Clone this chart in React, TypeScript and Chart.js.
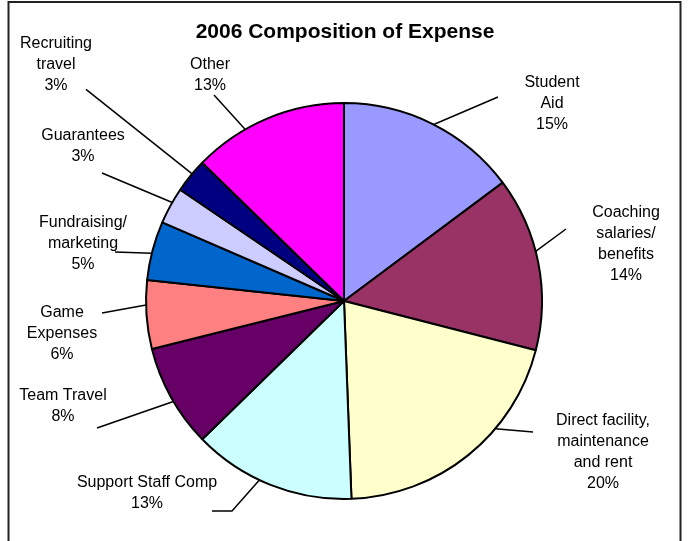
import React, { useEffect, useRef } from "react";
import { Chart, registerables } from "chart.js";

Chart.register(...registerables);

const TITLE = "2006 Composition of Expense";

const categories = [
  "Student\nAid",
  "Coaching\nsalaries/\nbenefits",
  "Direct facility,\nmaintenance\nand rent",
  "Support Staff Comp",
  "Team Travel",
  "Game\nExpenses",
  "Fundraising/\nmarketing",
  "Guarantees",
  "Recruiting\ntravel",
  "Other",
];

const shares = [14.8, 14.2, 20.4, 13.3, 8.4, 5.6, 4.8, 3.0, 2.8, 12.7];

const sliceColors = [
  "#9999FF",
  "#993366",
  "#FFFFCC",
  "#CCFFFF",
  "#660066",
  "#FF8080",
  "#0066CC",
  "#CCCCFF",
  "#000080",
  "#FF00FF",
];

// Label layout relative to the pie centre: first text line centre, and leader polyline
// (from label side to the pie; the last point is snapped onto the pie edge).
const labelLayout: { tx: number; ty: number; leader: [number, number][] }[] = [
  { tx: 208, ty: -218, leader: [[154, -204], [91, -179]] },
  { tx: 282, ty: -88.5, leader: [[222, -72], [189, -49]] },
  { tx: 259, ty: 120, leader: [[189, 131], [154, 130]] },
  { tx: -197, ty: 181.5, leader: [[-132, 210], [-112, 210], [-86, 182]] },
  { tx: -281, ty: 95, leader: [[-247, 127], [-180, 106]] },
  { tx: -282, ty: 12, leader: [[-242, 12], [-198, 4]] },
  { tx: -261, ty: -78, leader: [[-229, -49], [-197, -49]] },
  { tx: -261, ty: -165, leader: [[-242, -128], [-176, -101]] },
  { tx: -288, ty: -257, leader: [[-258, -211.6], [-153, -128]] },
  { tx: -134, ty: -236, leader: [[-130, -206], [-103, -179]] },
];

const FONT = '"Liberation Sans", Arial, sans-serif';

const overlayPlugin = {
  id: "overlay",
  beforeDraw(chart: any) {
    const ctx = chart.ctx;
    ctx.save();
    ctx.fillStyle = "#ffffff";
    ctx.fillRect(0, 0, chart.width, chart.height);
    ctx.strokeStyle = "#222222";
    ctx.lineWidth = 2;
    ctx.strokeRect(8.5, 2, 672, 600);
    ctx.restore();
  },
  afterDraw(chart: any) {
    const ctx = chart.ctx;
    const meta = chart.getDatasetMeta(0);
    const arc0 = meta.data[0];
    if (!arc0) return;
    const { x, y, outerRadius } = arc0.getProps(["x", "y", "outerRadius"], true);
    ctx.save();
    // title
    ctx.fillStyle = "#000";
    ctx.font = `bold 21px ${FONT}`;
    ctx.textAlign = "center";
    ctx.textBaseline = "middle";
    ctx.fillText(TITLE, x + 1, 32);

    ctx.font = `16px ${FONT}`;
    categories.forEach((cat, i) => {
      const lay = labelLayout[i];
      const lines = cat.split("\n");
      lines.push(Math.round(shares[i]) + "%");
      lines.forEach((ln, k) => {
        ctx.fillText(ln, x + lay.tx, y + lay.ty + k * 21);
      });
      // leader
      ctx.strokeStyle = "#000";
      ctx.lineWidth = 1.5;
      ctx.beginPath();
      lay.leader.forEach((p, k) => {
        let px = x + p[0];
        let py = y + p[1];
        if (k === lay.leader.length - 1) {
          const a = Math.atan2(p[1], p[0]);
          px = x + Math.cos(a) * outerRadius;
          py = y + Math.sin(a) * outerRadius;
        }
        if (k === 0) ctx.moveTo(px, py);
        else ctx.lineTo(px, py);
      });
      ctx.stroke();
    });
    ctx.restore();
  },
};

export default function App() {
  const ref = useRef<HTMLCanvasElement | null>(null);
  useEffect(() => {
    if (!ref.current) return;
    const chart = new Chart(ref.current, {
      type: "pie",
      data: {
        labels: categories,
        datasets: [
          {
            data: shares,
            backgroundColor: sliceColors,
            borderColor: "#000000",
            borderWidth: 2,
          },
        ],
      },
      options: {
        responsive: false,
        animation: false,
        devicePixelRatio: 1,
        layout: { padding: { left: 145, right: 145, top: 102, bottom: 41 } },
        plugins: {
          legend: { display: false },
          tooltip: { enabled: false },
          title: { display: false },
        },
      },
      plugins: [overlayPlugin],
    });
    return () => chart.destroy();
  }, []);
  return (
    <div style={{ position: "fixed", left: 0, top: 0, width: 688, height: 541 }}>
      <canvas ref={ref} width={688} height={541} style={{ display: "block" }} />
    </div>
  );
}
